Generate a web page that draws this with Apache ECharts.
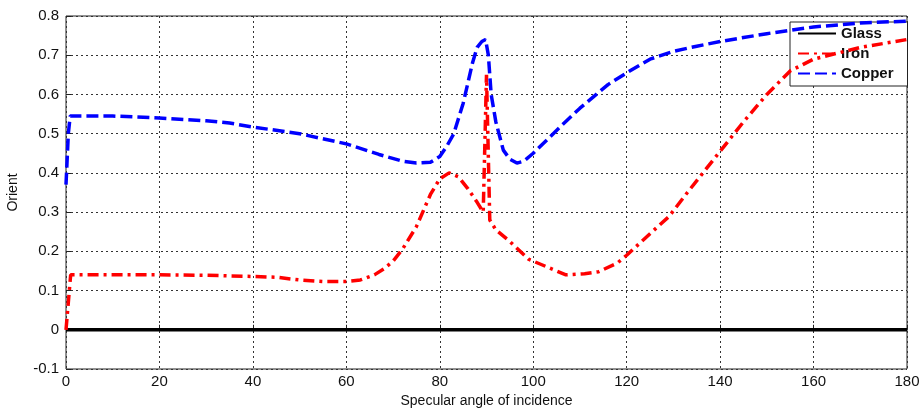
<!DOCTYPE html>
<html>
<head>
<meta charset="utf-8">
<script src="https://cdn.jsdelivr.net/npm/echarts@6/dist/echarts.min.js"></script>
<style>
  html, body { margin: 0; padding: 0; background: #fff; }
  #chart { width: 920px; height: 414px; }
</style>
</head>
<body>
<div id="chart"></div>
<script>
// values
const glassAngle = [0, 180];
const glassVal = [0, 0];

const ironAngle = [0, 1, 10, 20, 30, 40, 45, 50, 55, 60, 63, 66, 68, 70, 72, 75, 78, 80, 82, 84, 86, 88, 89.3, 89.7, 90, 90.7, 92, 95, 99, 103, 107, 111, 114, 118, 120, 125, 129, 133, 136, 140, 145, 150, 155, 160, 170, 180];
const ironVal = [0, 0.14, 0.14, 0.14, 0.139, 0.136, 0.134, 0.127, 0.123, 0.123, 0.127, 0.14, 0.155, 0.175, 0.205, 0.263, 0.345, 0.385, 0.4, 0.39, 0.36, 0.325, 0.3, 0.5, 0.65, 0.28, 0.255, 0.225, 0.18, 0.16, 0.14, 0.143, 0.148, 0.17, 0.19, 0.245, 0.288, 0.35, 0.395, 0.455, 0.53, 0.6, 0.66, 0.69, 0.72, 0.74];

const copperAngle = [0, 0.5, 0.9, 10, 20, 30, 35, 40, 50, 60, 67, 72, 75, 78, 80, 81.5, 83, 85, 87, 88, 89, 89.8, 90.4, 91, 92, 93.6, 95, 96.5, 98, 100, 103, 106, 110, 113, 116, 120, 125, 130, 135, 140, 145, 150, 160, 170, 180];
const copperVal = [0.37, 0.5, 0.545, 0.545, 0.54, 0.533, 0.527, 0.517, 0.5, 0.474, 0.447, 0.43, 0.425, 0.427, 0.442, 0.468, 0.5, 0.577, 0.68, 0.72, 0.735, 0.74, 0.7, 0.6, 0.53, 0.458, 0.435, 0.425, 0.43, 0.45, 0.485, 0.52, 0.565, 0.595, 0.625, 0.655, 0.69, 0.71, 0.723, 0.735, 0.745, 0.755, 0.772, 0.782, 0.787];

const pairs = (xs, ys) => xs.map((x, i) => [x, ys[i]]);

const font = "Liberation Sans, Arial, sans-serif";
const chart = echarts.init(document.getElementById("chart"));

chart.setOption({
  animation: false,
  grid: {
    left: 66, right: 13, top: 16, bottom: 45,
    outerBoundsMode: "none",
    show: true, borderColor: "#222", borderWidth: 1,
  },
  legend: {
    orient: "vertical",
    left: 790, top: 22,
    itemWidth: 38, itemHeight: 14, itemGap: 5,
    padding: [4, 14, 5, 7],
    backgroundColor: "#fff",
    borderColor: "#222", borderWidth: 1, borderRadius: 0,
    itemStyle: { opacity: 0 },
    textStyle: { fontFamily: font, fontSize: 15, color: "#111", fontWeight: "bold" },
    data: ["Glass", "Iron", "Copper"],
  },
  xAxis: {
    type: "value",
    min: 0, max: 180, interval: 20,
    name: "Specular angle of incidence",
    nameLocation: "middle", nameGap: 24,
    nameTextStyle: { fontFamily: font, fontSize: 14, color: "#111" },
    axisLine: { show: false },
    axisTick: { inside: true, length: 5, lineStyle: { color: "#222" } },
    axisLabel: { fontFamily: font, fontSize: 15, color: "#111", margin: 5 },
    splitLine: { show: true, lineStyle: { color: "#333", type: [2, 3], width: 1 } },
  },
  yAxis: {
    type: "value",
    min: -0.1, max: 0.8, interval: 0.1,
    name: "Orient",
    nameLocation: "middle", nameGap: 46, nameRotate: 90,
    nameTextStyle: { fontFamily: font, fontSize: 14, color: "#111" },
    axisLine: { show: false },
    axisTick: { inside: true, length: 5, lineStyle: { color: "#222" } },
    axisLabel: {
      fontFamily: font, fontSize: 15, color: "#111", margin: 7,
      formatter: v => String(+v.toFixed(1)),
    },
    splitLine: { show: true, lineStyle: { color: "#333", type: [2, 3], width: 1 } },
  },
  series: [
    {
      name: "Glass", type: "line", symbol: "none",
      data: pairs(glassAngle, glassVal),
      lineStyle: { color: "#000", width: 3.5 },
      itemStyle: { color: "#000" },
      z: 3,
    },
    {
      name: "Iron", type: "line", symbol: "none",
      data: pairs(ironAngle, ironVal),
      lineStyle: { color: "#ff0000", width: 3.5, type: [11, 5, 3, 5] },
      itemStyle: { color: "#ff0000" },
      z: 4,
    },
    {
      name: "Copper", type: "line", symbol: "none",
      data: pairs(copperAngle, copperVal),
      lineStyle: { color: "#0000ff", width: 3.5, type: [12, 5] },
      itemStyle: { color: "#0000ff" },
      z: 5,
    },
  ],
});
</script>
</body>
</html>
